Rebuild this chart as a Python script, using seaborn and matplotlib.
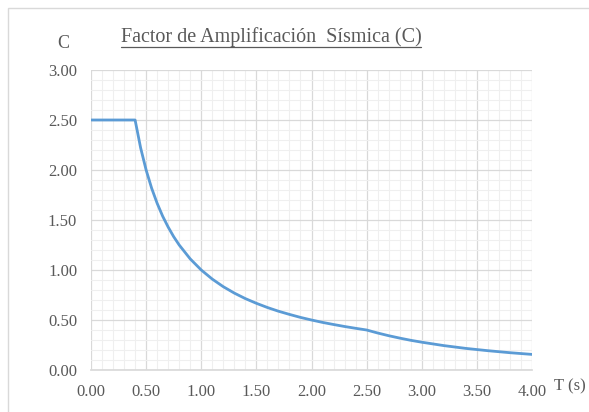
import matplotlib
matplotlib.use("Agg")
import matplotlib.pyplot as plt
import seaborn as sns
import pandas as pd
from matplotlib.ticker import MultipleLocator, FormatStrFormatter
from matplotlib.lines import Line2D
from matplotlib.patches import Rectangle

T = [0.00, 0.40, 0.45, 0.50, 0.55, 0.60, 0.65, 0.70, 0.75, 0.80, 0.90, 1.00,
     1.10, 1.20, 1.30, 1.40, 1.50, 1.60, 1.70, 1.80, 1.90, 2.00, 2.10, 2.20,
     2.30, 2.40, 2.50, 2.60, 2.70, 2.80, 2.90, 3.00, 3.20, 3.40, 3.60, 3.80, 4.00]
C = [2.500, 2.500, 2.222, 2.000, 1.818, 1.667, 1.538, 1.429, 1.333, 1.250, 1.111, 1.000,
     0.909, 0.833, 0.769, 0.714, 0.667, 0.625, 0.588, 0.556, 0.526, 0.500, 0.476, 0.455,
     0.435, 0.417, 0.400, 0.370, 0.343, 0.319, 0.297, 0.278, 0.244, 0.216, 0.193, 0.173, 0.156]

title = "Factor de Amplificación  Sísmica (C)"
xlabel = "T (s)"
ylabel = "C"

sns.set_theme(style="white")
plt.rcParams['font.family'] = ['Liberation Serif', 'DejaVu Serif']

df = pd.DataFrame({"T": T, "C": C})

fig = plt.figure(figsize=(5.89, 4.12), dpi=100)
W, H = 589, 412
ax = fig.add_axes([91 / W, 1 - 370 / H, (532 - 91) / W, (370 - 70) / H])

sns.lineplot(data=df, x="T", y="C", ax=ax, color="#5B9BD5", linewidth=2.0, sort=False)

ax.set_xlim(0, 4)
ax.set_ylim(0, 3)
ax.xaxis.set_major_locator(MultipleLocator(0.5))
ax.yaxis.set_major_locator(MultipleLocator(0.5))
ax.xaxis.set_minor_locator(MultipleLocator(0.1))
ax.yaxis.set_minor_locator(MultipleLocator(0.1))
ax.xaxis.set_major_formatter(FormatStrFormatter("%.2f"))
ax.yaxis.set_major_formatter(FormatStrFormatter("%.2f"))
ax.grid(which="major", color="#D9D9D9", linewidth=0.9)
ax.grid(which="minor", color="#EFEFEF", linewidth=0.8)
ax.set_axisbelow(True)
for s in ax.spines.values():
    s.set_visible(False)
ax.spines['bottom'].set_visible(True)
ax.spines['bottom'].set_color("#D9D9D9")
ax.tick_params(which="both", length=0)
ax.tick_params(axis="y", pad=10, labelsize=12, labelcolor="#595959")
ax.tick_params(axis="x", pad=10, labelsize=12, labelcolor="#595959")
ax.set_xlabel("")
ax.set_ylabel("")

fig.text(554 / W, 1 - 386 / H, xlabel, fontsize=12, color="#595959", ha="left", va="center")
fig.text(63 / W, 1 - 43 / H, ylabel, fontsize=13, color="#595959", ha="center", va="center")

t = fig.text(271 / W, 1 - 37 / H, title, fontsize=14.5, color="#595959", ha="center", va="center")

# light frame around chart area
fig.patches.append(Rectangle((8 / W, -0.1), 1.2, (1 - 8 / H) + 0.1, transform=fig.transFigure,
                             fill=False, edgecolor="#D9D9D9", linewidth=1.0))

fig.canvas.draw()
bb = t.get_window_extent(renderer=fig.canvas.get_renderer())
bbf = bb.transformed(fig.transFigure.inverted())
fig.lines.append(Line2D([bbf.x0, bbf.x1], [1 - 47 / H, 1 - 47 / H], transform=fig.transFigure,
                        color="#595959", linewidth=0.9))

fig.savefig("out.png", dpi=100)
